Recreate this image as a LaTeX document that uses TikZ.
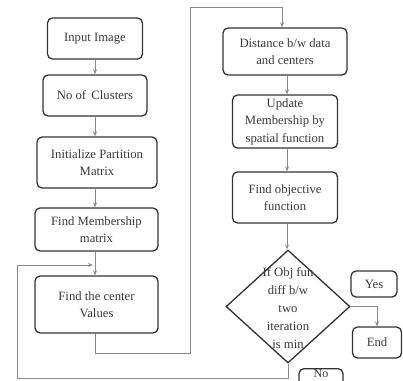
\documentclass[tikz,border=0pt]{standalone}
\usepackage{fontspec}
\setmainfont{Liberation Serif}
\usetikzlibrary{shapes.geometric,arrows.meta}
\definecolor{boxline}{HTML}{333333}
\definecolor{arrowline}{HTML}{8A8A8A}
\definecolor{txt}{HTML}{3A3A3A}
\tikzset{
  fbox/.style={draw=boxline, line width=1.3pt, rounded corners=5pt, align=center,
    text=txt, inner sep=1pt, font=\fontsize{12.7}{17.5}\selectfont},
  fdiam/.style={draw=boxline, line width=1.3pt, diamond, align=center, inner sep=0pt,
    text=txt, font=\fontsize{12.7}{18}\selectfont},
  flow/.style={draw=arrowline, line width=0.7pt, -{Stealth[length=5pt,width=4pt]}},
  fline/.style={draw=arrowline, line width=0.7pt}
}
\begin{document}
\begin{tikzpicture}[x=1pt,y=-1pt]
\useasboundingbox (0,0) rectangle (403,380);
\clip (0,0) rectangle (403,380);
% left column
\node[fbox, minimum width=95pt, minimum height=41pt] (inp) at (95,38.5) {Input Image};
\node[fbox, minimum width=104pt, minimum height=41pt] (clu) at (95,95.5) {No of\, Clusters};
\node[fbox, minimum width=120pt, minimum height=51pt] (ini) at (97,162.5) {Initialize Partition\\Matrix};
\node[fbox, minimum width=123pt, minimum height=43pt] (fmm) at (96.5,229.5) {Find Membership\\matrix};
\node[fbox, minimum width=123pt, minimum height=57pt] (cen) at (96.5,304.5) {Find the center\\Values};
% right column
\node[fbox, minimum width=124pt, minimum height=47pt] (dis) at (285,51.5) {Distance b/w data\\and centers};
\node[fbox, minimum width=105pt, minimum height=53pt] (upd) at (285,121.5) {Update\\Membership by\\spatial function};
\node[fbox, minimum width=105pt, minimum height=51pt] (obj) at (285,197.5) {Find objective\\function};
\node[fdiam, minimum width=124pt, minimum height=113pt] (dia) at (288,306.5) {};
\node[text=txt, align=center, font=\fontsize{12.7}{18}\selectfont] (diat) at (288,308) {If Obj fun\\diff b/w\\two\\iteration\\is min};
\node[fbox, minimum width=46pt, minimum height=26pt] (yes) at (374,284) {Yes};
\node[fbox, minimum width=49pt, minimum height=31pt] (end) at (377,342.5) {End};
\node[fbox, minimum width=44pt, minimum height=26pt, anchor=north] (no) at (321,368) {};
\node[text=txt, font=\fontsize{12}{16}\selectfont, anchor=base, inner sep=0pt] (notext) at (321,377.8) {No};
% coordinates
\coordinate (a1) at (95,353);
\coordinate (a2) at (190,353);
\coordinate (a3) at (190,7);
\coordinate (a4) at (282,7);
\coordinate (b1) at (288,378);
\coordinate (b2) at (17,378);
\coordinate (b3) at (17,265);
\coordinate (b4) at (93,265);
\coordinate (e1) at (377,306.5);
% arrows
\draw[flow] (inp.south -| a1) -- (clu.north -| a1);
\draw[flow] (clu.south -| a1) -- (ini.north -| a1);
\draw[flow] (ini.south -| a1) -- (fmm.north -| a1);
\draw[flow] (fmm.south -| a1) -- (cen.north -| a1);
\draw[flow] (cen.south -| a1) -- (a1) -- (a2) -- (a3) -- (a4) -- (dis.north -| a4);
\draw[flow] (dis.south -| 287,0) -- (upd.north -| 287,0);
\draw[flow] (upd.south -| 287,0) -- (obj.north -| 287,0);
\draw[flow] (obj.south -| 287,0) -- (dia.north -| 287,0);
\draw[flow] (dia.east) -- (e1) -- (end.north -| e1);
\draw[flow] (dia.south) -- (b1) -- (b2) -- (b3) -- (b4);
\end{tikzpicture}
\end{document}
